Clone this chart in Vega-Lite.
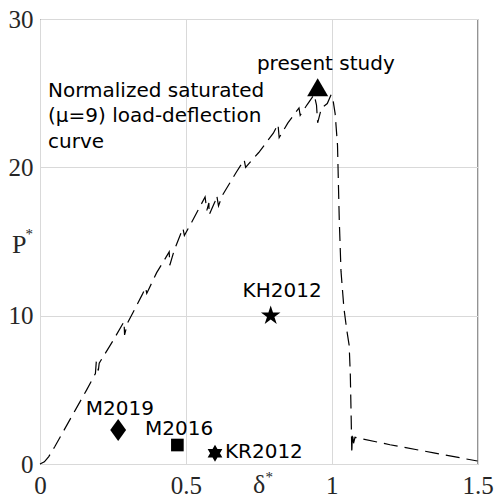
{
  "$schema": "https://vega.github.io/schema/vega-lite/v6.json",
  "width": 437.5,
  "height": 445,
  "autosize": {"type": "none"},
  "padding": {"left": 40, "top": 19, "right": 19.5, "bottom": 34},
  "background": "white",
  "config": {
    "view": {"stroke": "#262626", "strokeWidth": 1},
    "axis": {
      "grid": true,
      "gridColor": "#d9d9d9",
      "gridWidth": 1,
      "domain": false,
      "ticks": false,
      "tickSize": 0,
      "labelFont": "Liberation Serif",
      "labelFontSize": 25,
      "labelColor": "#262626",
      "labelFlush": false,
      "labelOverlap": false,
      "labelBound": false,
      "title": null
    }
  },
  "datasets": {
    "curve": [
      {"i": 0, "x": 0, "y": 0},
      {"i": 1, "x": 0.015, "y": 0.15},
      {"i": 2, "x": 0.03, "y": 0.5},
      {"i": 3, "x": 0.05, "y": 1.15},
      {"i": 4, "x": 0.08, "y": 2.2},
      {"i": 5, "x": 0.12, "y": 3.6},
      {"i": 6, "x": 0.16, "y": 5.0},
      {"i": 7, "x": 0.19, "y": 6.1},
      {"i": 8, "x": 0.193, "y": 6.9},
      {"i": 9, "x": 0.2, "y": 6.3},
      {"i": 10, "x": 0.203, "y": 6.8},
      {"i": 11, "x": 0.25, "y": 8.3},
      {"i": 12, "x": 0.288, "y": 9.6},
      {"i": 13, "x": 0.29, "y": 8.7},
      {"i": 14, "x": 0.3, "y": 9.5},
      {"i": 15, "x": 0.35, "y": 11.4},
      {"i": 16, "x": 0.362, "y": 11.9},
      {"i": 17, "x": 0.366, "y": 11.5},
      {"i": 18, "x": 0.4, "y": 12.9},
      {"i": 19, "x": 0.443, "y": 14.3},
      {"i": 20, "x": 0.445, "y": 13.4},
      {"i": 21, "x": 0.46, "y": 14.4},
      {"i": 22, "x": 0.49, "y": 15.9},
      {"i": 23, "x": 0.495, "y": 15.4},
      {"i": 24, "x": 0.52, "y": 16.3},
      {"i": 25, "x": 0.566, "y": 18.0},
      {"i": 26, "x": 0.572, "y": 17.1},
      {"i": 27, "x": 0.579, "y": 17.6},
      {"i": 28, "x": 0.58, "y": 16.8},
      {"i": 29, "x": 0.6, "y": 17.7},
      {"i": 30, "x": 0.606, "y": 18.1},
      {"i": 31, "x": 0.612, "y": 17.4},
      {"i": 32, "x": 0.625, "y": 18.1},
      {"i": 33, "x": 0.674, "y": 19.7},
      {"i": 34, "x": 0.7, "y": 20.5},
      {"i": 35, "x": 0.705, "y": 20.0},
      {"i": 36, "x": 0.75, "y": 21.0},
      {"i": 37, "x": 0.8, "y": 22.3},
      {"i": 38, "x": 0.816, "y": 22.9},
      {"i": 39, "x": 0.82, "y": 22.0},
      {"i": 40, "x": 0.85, "y": 23.0},
      {"i": 41, "x": 0.888, "y": 24.0},
      {"i": 42, "x": 0.892, "y": 23.5},
      {"i": 43, "x": 0.915, "y": 24.2},
      {"i": 44, "x": 0.94, "y": 24.9},
      {"i": 45, "x": 0.948, "y": 24.2},
      {"i": 46, "x": 0.952, "y": 23.0},
      {"i": 47, "x": 0.965, "y": 24.0},
      {"i": 48, "x": 0.985, "y": 24.3},
      {"i": 49, "x": 0.998, "y": 24.9},
      {"i": 50, "x": 1.005, "y": 24.5},
      {"i": 51, "x": 1.012, "y": 23.6},
      {"i": 52, "x": 1.02, "y": 21.5},
      {"i": 53, "x": 1.026, "y": 16.5},
      {"i": 54, "x": 1.032, "y": 13.0},
      {"i": 55, "x": 1.042, "y": 10.5},
      {"i": 56, "x": 1.052, "y": 9.0},
      {"i": 57, "x": 1.06, "y": 8.0},
      {"i": 58, "x": 1.064, "y": 6.0},
      {"i": 59, "x": 1.067, "y": 3.0},
      {"i": 60, "x": 1.069, "y": 0.7},
      {"i": 61, "x": 1.071, "y": 2.1},
      {"i": 62, "x": 1.075, "y": 1.4},
      {"i": 63, "x": 1.08, "y": 1.8},
      {"i": 64, "x": 1.2, "y": 1.3},
      {"i": 65, "x": 1.35, "y": 0.75},
      {"i": 66, "x": 1.5, "y": 0.2}
    ],
    "points": [
      {"name": "present study", "x": 0.952, "y": 25.4},
      {"name": "KH2012", "x": 0.791, "y": 10.0},
      {"name": "M2019", "x": 0.268, "y": 2.3},
      {"name": "M2016", "x": 0.471, "y": 1.28},
      {"name": "KR2012", "x": 0.6, "y": 0.72}
    ],
    "labelsCenter": [
      {"text": "present study", "x": 0.98, "y": 26.57},
      {"text": "KH2012", "x": 0.83, "y": 11.24},
      {"text": "M2019", "x": 0.274, "y": 3.3},
      {"text": "M2016", "x": 0.477, "y": 1.96}
    ],
    "labelsLeft": [
      {"text": "KR2012", "x": 0.634, "y": 0.4},
      {"text": "Normalized saturated", "x": 0.0274, "y": 24.77},
      {"text": "(μ=9) load-deflection", "x": 0.0274, "y": 23.08},
      {"text": "curve", "x": 0.0274, "y": 21.29}
    ],
    "titles": [
      {"text": "P", "x": -0.096, "y": 14.23},
      {"text": "δ", "x": 0.73, "y": -1.95}
    ],
    "stars": [
      {"text": "*", "x": -0.037, "y": 16.0},
      {"text": "*", "x": 0.786, "y": -0.4}
    ]
  },
  "encoding": {
    "x": {"field": "x", "type": "quantitative", "scale": {"domain": [0, 1.5], "nice": false, "zero": false},
      "axis": {"values": [0, 0.5, 1, 1.5], "format": "~g", "labelPadding": 9, "orient": "bottom"}},
    "y": {"field": "y", "type": "quantitative", "scale": {"domain": [0, 30], "nice": false, "zero": false},
      "axis": {"values": [0, 10, 20, 30], "labelPadding": 7, "orient": "left"}}
  },
  "layer": [
    {
      "data": {"name": "curve"},
      "mark": {"type": "line", "color": "black", "strokeWidth": 1.2, "strokeDash": [14, 7], "interpolate": "linear"},
      "encoding": {
        "order": {"field": "i", "type": "quantitative"}
      }
    },
    {
      "data": {"name": "points"},
      "transform": [{"filter": "datum.name === 'present study'"}],
      "mark": {"type": "point", "filled": true, "color": "black", "opacity": 1, "shape": "triangle-up", "size": 441}
    },
    {
      "data": {"name": "points"},
      "transform": [{"filter": "datum.name === 'KH2012'"}],
      "mark": {"type": "point", "filled": true, "color": "black", "opacity": 1, "shape": "M0,-1L0.2245,-0.309L0.9511,-0.309L0.3633,0.118L0.5878,0.809L0,0.382L-0.5878,0.809L-0.3633,0.118L-0.9511,-0.309L-0.2245,-0.309Z", "size": 420}
    },
    {
      "data": {"name": "points"},
      "transform": [{"filter": "datum.name === 'M2019'"}],
      "mark": {"type": "point", "filled": true, "color": "black", "opacity": 1, "shape": "M0,-1L0.72,0L0,1L-0.72,0Z", "size": 484}
    },
    {
      "data": {"name": "points"},
      "transform": [{"filter": "datum.name === 'M2016'"}],
      "mark": {"type": "point", "filled": true, "color": "black", "opacity": 1, "shape": "square", "size": 160}
    },
    {
      "data": {"name": "points"},
      "transform": [{"filter": "datum.name === 'KR2012'"}],
      "mark": {"type": "point", "filled": true, "color": "black", "opacity": 1, "shape": "M0,-1L0.866,0.5L-0.866,0.5Z M0,1L-0.866,-0.5L0.866,-0.5Z", "size": 289}
    },
    {
      "data": {"name": "labelsCenter"},
      "mark": {"type": "text", "font": "DejaVu Sans", "fontSize": 20, "color": "black", "align": "center", "baseline": "alphabetic"},
      "encoding": {"text": {"field": "text"}}
    },
    {
      "data": {"name": "labelsLeft"},
      "mark": {"type": "text", "font": "DejaVu Sans", "fontSize": 20, "color": "black", "align": "left", "baseline": "alphabetic"},
      "encoding": {"text": {"field": "text"}}
    },
    {
      "data": {"name": "titles"},
      "mark": {"type": "text", "font": "Liberation Serif", "fontSize": 26, "color": "#262626", "align": "left", "baseline": "alphabetic"},
      "encoding": {"text": {"field": "text"}}
    },
    {
      "data": {"name": "stars"},
      "mark": {"type": "text", "font": "Liberation Serif", "fontSize": 15, "color": "#262626", "align": "center", "baseline": "top"},
      "encoding": {"text": {"field": "text"}}
    }
  ]
}
